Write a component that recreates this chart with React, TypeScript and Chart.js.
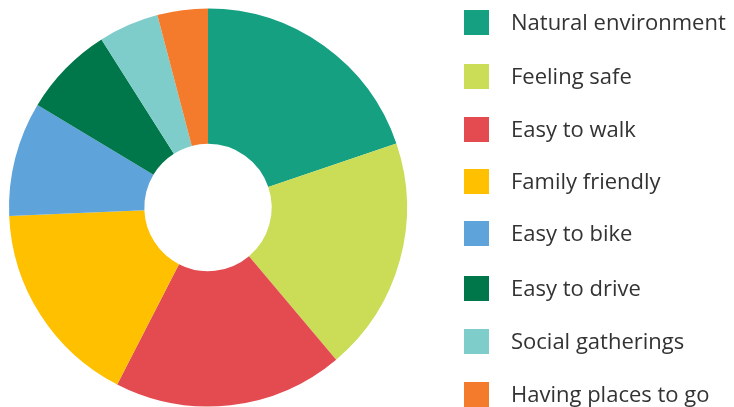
import React, { useEffect, useRef } from "react";
import { Chart, registerables } from "chart.js";

Chart.register(...registerables);

const categories = [
  "Natural environment",
  "Feeling safe",
  "Easy to walk",
  "Family friendly",
  "Easy to bike",
  "Easy to drive",
  "Social gatherings",
  "Having places to go",
];
const values = [19.8, 19.1, 18.7, 16.8, 9.3, 7.4, 4.9, 4.1];
const colors = [
  "#15A081",
  "#CBDC57",
  "#E34B50",
  "#FFC000",
  "#5FA3DB",
  "#00774A",
  "#7FCDCB",
  "#F47A2C",
];

export default function App() {
  const ref = useRef<HTMLCanvasElement | null>(null);
  useEffect(() => {
    document.body.style.margin = "0";
    const chart = new Chart(ref.current!, {
      type: "doughnut",
      data: {
        labels: categories,
        datasets: [
          {
            data: values,
            backgroundColor: colors,
            borderWidth: 0,
          },
        ],
      },
      options: {
        animation: false,
        responsive: false,
        cutout: "32%",
        layout: { padding: { left: 9, right: 327, top: 8, bottom: 0 } },
        plugins: { legend: { display: false }, tooltip: { enabled: false } },
      },
    });
    return () => chart.destroy();
  }, []);
  const tops = [10, 64, 117, 169, 221, 276, 329, 382];
  return (
    <div style={{ position: "relative", width: 734, height: 407, background: "#fff", overflow: "hidden" }}>
      <canvas ref={ref} width={734} height={407} style={{ position: "absolute", left: 0, top: 0 }} />
      {categories.map((c, i) => (
        <div key={c} style={{ position: "absolute", left: 464, top: tops[i], height: 25, display: "flex", alignItems: "center" }}>
          <div style={{ width: 25, height: 25, background: colors[i], flex: "none" }} />
          <span
            style={{
              marginLeft: 22,
              fontFamily: "'Open Sans', sans-serif",
              fontSize: 22,
              lineHeight: 1,
              position: "relative",
              top: -1.5,
              color: "#333",
              whiteSpace: "nowrap",
            }}
          >
            {c}
          </span>
        </div>
      ))}
    </div>
  );
}
